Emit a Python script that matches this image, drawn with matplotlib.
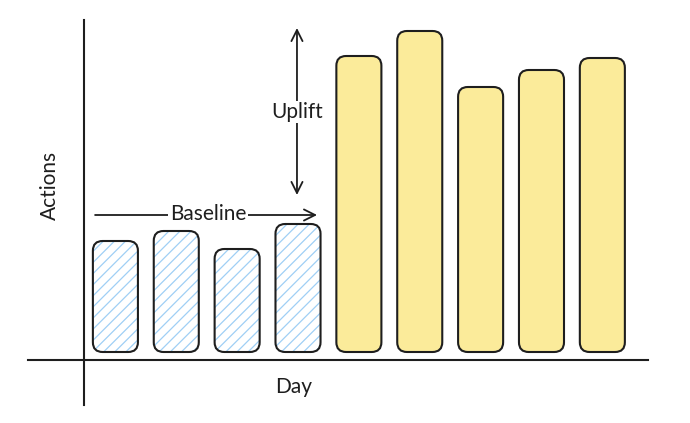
import numpy as np
import matplotlib.pyplot as plt
from matplotlib.patches import FancyBboxPatch

# sketch-style bar chart: baseline days vs uplift days
days = np.arange(9)
actions = [11.1, 12.1, 10.3, 12.8, 29.6, 32.1, 26.5, 28.2, 29.4]
is_baseline = [True, True, True, True, False, False, False, False, False]

fill_yellow = "#fbeb9a"
hatch_blue = "#9fcff5"
ink = "#1e1e1e"
bar_w = 0.74

plt.rcParams['font.family'] = ['Lato', 'DejaVu Sans']
plt.rcParams['hatch.linewidth'] = 0.9

fig = plt.figure(figsize=(6.9, 4.23), dpi=100)
ax = fig.add_axes([0, 0, 1, 1])
ax.set_xlim(-1.896, 9.44)
ax.set_ylim(-7.1, 35.2)
ax.axis('off')

# keep corners round: x unit ~60.9 px, y unit 10 px
aspect = 60.87 / 10.0
style = "round,pad=0,rounding_size=0.16"
bars = ax.bar(days, actions, width=bar_w, color='none', edgecolor='none')
for rect, base in zip(bars, is_baseline):
    x0, y0 = rect.get_x(), rect.get_y()
    w, h = rect.get_width(), rect.get_height()
    if base:
        ax.add_patch(FancyBboxPatch((x0, y0), w, h, boxstyle=style,
                                    mutation_aspect=aspect, facecolor='white',
                                    edgecolor=hatch_blue, hatch='///', lw=0))
        ax.add_patch(FancyBboxPatch((x0, y0), w, h, boxstyle=style,
                                    mutation_aspect=aspect, facecolor='none',
                                    edgecolor=ink, lw=1.5))
    else:
        ax.add_patch(FancyBboxPatch((x0, y0), w, h, boxstyle=style,
                                    mutation_aspect=aspect, facecolor=fill_yellow,
                                    edgecolor=ink, lw=1.5))

# hand drawn axes
ax.plot([-1.436, 8.75], [-0.8, -0.8], color=ink, lw=1.5)
ax.plot([-0.516, -0.516], [-5.3, 33.2], color=ink, lw=1.5)

ax.text(2.93, -3.5, "Day", ha='center', va='center', fontsize=15, color=ink)
ax.text(-1.075, 16.7, "Actions", ha='center', va='center', rotation=90,
        fontsize=15, color=ink)

# baseline arrow
ax.annotate("", xy=(3.313, 13.7), xytext=(-0.334, 13.7),
            arrowprops=dict(arrowstyle='->', color=ink, lw=1.3,
                            mutation_scale=20, shrinkA=0, shrinkB=0))
ax.text(1.52, 13.8, "Baseline", ha='center', va='center', fontsize=15,
        color=ink, bbox=dict(facecolor='white', edgecolor='none', pad=1))

# uplift arrow
ax.annotate("", xy=(2.983, 32.4), xytext=(2.983, 15.7),
            arrowprops=dict(arrowstyle='<->', color=ink, lw=1.3,
                            mutation_scale=20, shrinkA=0, shrinkB=0))
ax.text(2.983, 24.0, "Uplift", ha='center', va='center', fontsize=15,
        color=ink, bbox=dict(facecolor='white', edgecolor='none', pad=1))

fig.savefig("out.png", dpi=100)
